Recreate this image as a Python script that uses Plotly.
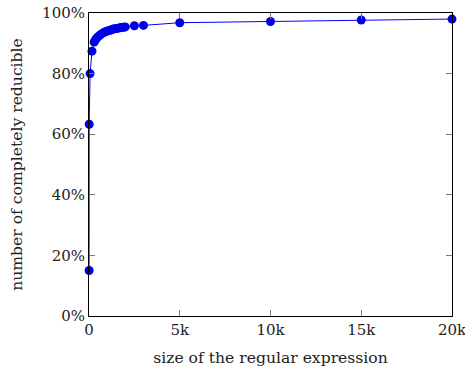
import plotly.graph_objects as go

sizes = [5, 10, 60, 165, 280, 350, 420, 500, 600, 700, 800, 900, 1000, 1100, 1200, 1300, 1400, 1500, 1600, 1700, 1800, 1900, 2000, 2500, 3000, 5000, 10000, 15000, 20000]
pct = [15.0, 63.3, 80.0, 87.4, 90.4, 91.1, 91.7, 92.2, 92.7, 93.1, 93.5, 93.8, 94.0, 94.2, 94.4, 94.6, 94.8, 94.9, 95.0, 95.1, 95.2, 95.3, 95.4, 95.8, 95.9, 96.8, 97.2, 97.7, 98.0]

xtick_vals = [0, 5000, 10000, 15000, 20000]
xtick_text = ["0", "5k", "10k", "15k", "20k"]
ytick_vals = [0, 20, 40, 60, 80, 100]
ytick_text = ["0%", "20%", "40%", "60%", "80%", "100%"]

font = "DejaVu Serif"

fig = go.Figure()
fig.add_trace(go.Scatter(
    x=sizes, y=pct, mode="lines+markers",
    line=dict(color="#0000ff", width=1),
    marker=dict(color="#0000e6", size=9, line=dict(width=0)),
    cliponaxis=False, showlegend=False,
))

axis_common = dict(
    showgrid=False, zeroline=False, showline=True, linecolor="black", linewidth=1,
    mirror="ticks", ticks="inside", ticklen=6, tickcolor="#777777", tickwidth=1,
    tickfont=dict(family=font, size=15, color="#222222"),
    automargin=False, ticklabeloverflow="allow",
)

fig.update_layout(
    width=465, height=367, autosize=False,
    margin=dict(l=89, r=13, t=13, b=51, pad=0),
    paper_bgcolor="white", plot_bgcolor="white",
    font=dict(family=font, color="#222222"),
    xaxis=dict(range=[0, 20000], tickvals=xtick_vals, ticktext=xtick_text,
               title=dict(text="size of the regular expression", font=dict(family=font, size=15.6)),
               **axis_common),
    yaxis=dict(range=[0, 100], tickvals=ytick_vals, ticktext=ytick_text,
               title=dict(text="number of completely reducible", font=dict(family=font, size=15.6)),
               **axis_common),
)

fig.write_html("out.html", config={"responsive": False, "displayModeBar": False},
               post_script="document.body.style.margin='0px';")
